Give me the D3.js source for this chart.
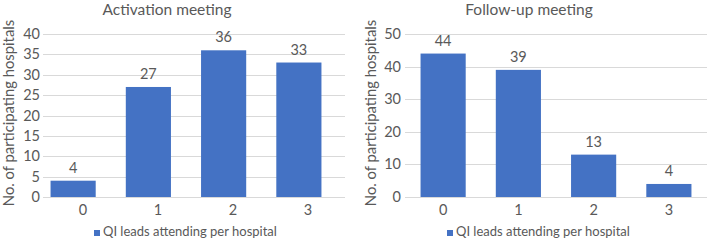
<!DOCTYPE html>
<html>
<head>
<meta charset="utf-8">
<script src="https://cdn.jsdelivr.net/npm/d3@7"></script>
<style>
  body { margin: 0; background: #fff; }
  text { font-family: Lato, "Open Sans", sans-serif; fill: #595959; }
</style>
</head>
<body>
<svg id="chart" width="709" height="240"></svg>
<script>
// data
var categories = ["0", "1", "2", "3"];
var activationValues = [4, 27, 36, 33];
var followUpValues = [44, 39, 13, 4];
var activationTicks = [0, 5, 10, 15, 20, 25, 30, 35, 40];
var followUpTicks = [0, 10, 20, 30, 40, 50];
var seriesName = "QI leads attending per hospital";
var yTitle = "No. of participating hospitals";

var blue = "#4472c4";
var grid = "#d9d9d9";

var svg = d3.select("#chart");

function drawChart(opt) {
    var g = svg.append("g");

    var y = d3.scaleLinear()
        .domain([0, opt.ticks[opt.ticks.length - 1]])
        .range([197, 34]);

    // axis labels band and bar band (left panel bars sit a bit left of labels)
    var xLabel = d3.scaleBand().domain(categories)
        .range(opt.labelRange).padding(0);
    var xBar = d3.scaleBand().domain(categories)
        .range(opt.barRange).paddingInner(0.4).paddingOuter(0.2);

    // gridlines
    g.selectAll(".grid")
        .data(opt.ticks)
        .enter().append("line")
        .attr("x1", opt.gridX[0])
        .attr("x2", opt.gridX[1])
        .attr("y1", function(d) { return Math.round(y(d)) + 0.5; })
        .attr("y2", function(d) { return Math.round(y(d)) + 0.5; })
        .attr("stroke", grid)
        .attr("stroke-width", 1);

    // y tick labels
    g.selectAll(".ytick")
        .data(opt.ticks)
        .enter().append("text")
        .attr("x", opt.tickX)
        .attr("y", function(d) { return y(d) + 5; })
        .attr("text-anchor", "end")
        .attr("font-size", 14.5)
        .text(function(d) { return d; });

    // bars
    g.selectAll(".bar")
        .data(opt.values)
        .enter().append("rect")
        .attr("x", function(d, i) { return xBar(categories[i]); })
        .attr("width", xBar.bandwidth())
        .attr("y", function(d) { return y(d); })
        .attr("height", function(d) { return y(0) - y(d); })
        .attr("fill", blue);

    // value labels
    g.selectAll(".val")
        .data(opt.values)
        .enter().append("text")
        .attr("x", function(d, i) { return xBar(categories[i]) + xBar.bandwidth() / 2; })
        .attr("y", function(d) { return y(d) - 8; })
        .attr("text-anchor", "middle")
        .attr("font-size", 14.5)
        .text(function(d) { return d; });

    // x tick labels
    g.selectAll(".xtick")
        .data(categories)
        .enter().append("text")
        .attr("x", function(d) { return xLabel(d) + xLabel.bandwidth() / 2; })
        .attr("y", 215)
        .attr("text-anchor", "middle")
        .attr("font-size", 14.5)
        .text(function(d) { return d; });

    // title
    g.append("text")
        .attr("x", opt.titleX)
        .attr("y", 14.5)
        .attr("text-anchor", "middle")
        .attr("font-size", 15.5)
        .text(opt.title);

    // y axis title
    g.append("text")
        .attr("transform", "translate(" + opt.yTitleX + ",113)rotate(-90)")
        .attr("text-anchor", "middle")
        .attr("font-size", 14.8)
        .text(yTitle);

    // legend
    var lg = g.append("g").attr("transform", "translate(" + opt.legendX + ",0)");
    lg.append("rect")
        .attr("x", 0).attr("y", 230)
        .attr("width", 6).attr("height", 6)
        .attr("fill", blue);
    lg.append("text")
        .attr("x", 9).attr("y", 236)
        .attr("font-size", 13)
        .text(seriesName);
}

drawChart({
    title: "Activation meeting",
    values: activationValues,
    ticks: activationTicks,
    labelRange: [45.5, 345.5],
    barRange: [35.5, 336.5],
    gridX: [43, 345],
    tickX: 40,
    titleX: 167,
    yTitleX: 13.5,
    legendX: 94
});

drawChart({
    title: "Follow-up meeting",
    values: followUpValues,
    ticks: followUpTicks,
    labelRange: [405.5, 706.5],
    barRange: [405.5, 706.5],
    gridX: [405, 707],
    tickX: 401,
    titleX: 529,
    yTitleX: 376,
    legendX: 447
});
</script>
</body>
</html>
